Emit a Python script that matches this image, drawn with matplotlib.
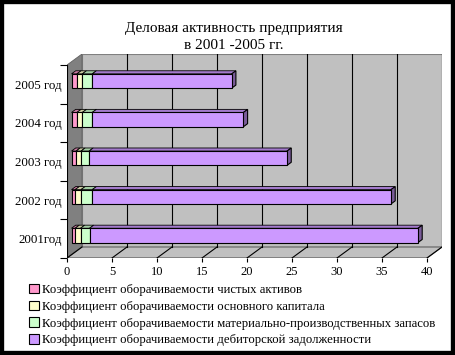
import matplotlib
matplotlib.use("Agg")
import matplotlib.pyplot as plt
from matplotlib.patches import Polygon, Patch, Rectangle
import numpy as np

plt.rcParams['font.family'] = ['Liberation Serif', 'DejaVu Serif']

# ---------------- data ----------------
categories = ['2001год', '2002 год', '2003 год', '2004 год', '2005 год']
series_names = [
    'Коэффициент оборачиваемости чистых активов',
    'Коэффициент оборачиваемости основного капитала',
    'Коэффициент оборачиваемости материально-производственных запасов',
    'Коэффициент оборачиваемости дебиторской задолженности',
]
net_assets   = [0.4, 0.4, 0.5, 0.6, 0.6]
fixed_capital = [0.6, 0.65, 0.55, 0.6, 0.6]
inventories  = [1.0, 1.25, 0.9, 1.1, 1.1]
receivables  = [36.5, 33.2, 22.0, 16.8, 15.5]
x_ticks = [0, 5, 10, 15, 20, 25, 30, 35, 40]
title = 'Деловая активность предприятия\nв 2001 -2005 гг.'

front_colors = ['#FF99CC', '#FFFFCC', '#CCFFCC', '#CC99FF']

def shade(hexc, k):
    r, g, b = [int(hexc[i:i + 2], 16) / 255 for i in (1, 3, 5)]
    return (r * k, g * k, b * k)

# ---------------- geometry ----------------
W, H, DPI = 455, 355, 100
fig = plt.figure(figsize=(W / DPI, H / DPI), dpi=DPI)
fig.patch.set_facecolor('white')

XMAX = 40
PX_PER_X = 9.0
BAND_PX = 38.6
DX_PX, DY_PX = 15, 11
dxu = DX_PX / PX_PER_X
dyu = DY_PX / BAND_PX

ax_left_px, ax_bottom_px_top = 67, 258
ax_w_px = (XMAX + dxu) * PX_PER_X
ax_h_px = (5 + dyu) * BAND_PX
ax = fig.add_axes([ax_left_px / W, 1 - ax_bottom_px_top / H, ax_w_px / W, ax_h_px / H])
ax.set_xlim(0, XMAX + dxu)
ax.set_ylim(-0.5, 4.5 + dyu)
for s in ax.spines.values():
    s.set_visible(False)
ax.patch.set_visible(False)

y0, y1 = -0.5, 4.5
wall_gray = '#C0C0C0'
# back wall
ax.add_patch(Polygon([(dxu, y0 + dyu), (XMAX + dxu, y0 + dyu), (XMAX + dxu, y1 + dyu), (dxu, y1 + dyu)],
                     closed=True, facecolor=wall_gray, edgecolor='#808080', lw=0.8, zorder=0))
# left wall
ax.add_patch(Polygon([(0, y0), (dxu, y0 + dyu), (dxu, y1 + dyu), (0, y1)],
                     closed=True, facecolor='#808080', edgecolor='#606060', lw=0.6, zorder=0.5))
# floor
ax.add_patch(Polygon([(0, y0), (XMAX, y0), (XMAX + dxu, y0 + dyu), (dxu, y0 + dyu)],
                     closed=True, facecolor=wall_gray, edgecolor='#606060', lw=0.8, zorder=0.5))
# gridlines
for t in x_ticks[1:]:
    ax.plot([t + dxu, t + dxu], [y0 + dyu, y1 + dyu], color='black', lw=0.8, zorder=0.6)
for t in x_ticks:
    ax.plot([t, t + dxu], [y0, y0 + dyu], color='black', lw=0.8, zorder=0.7)
# front axes lines
ax.plot([0, 0], [y0, y1], color='black', lw=0.8, zorder=0.8)
ax.plot([0, XMAX], [y0, y0], color='black', lw=0.8, zorder=0.8)

# ---------------- bars ----------------
f1, f2 = 0.30, 0.58
bar_h = 0.37
ypos = np.arange(len(categories))
series = [net_assets, fixed_capital, inventories, receivables]
lefts = np.zeros(len(categories))
for si, vals in enumerate(series):
    vals = np.asarray(vals)
    yc = ypos + f1 * dyu
    ax.barh(yc, vals, left=lefts + f1 * dxu, height=bar_h, color=front_colors[si],
            edgecolor='black', linewidth=0.8, zorder=3)
    for i in range(len(categories)):
        l = lefts[i]
        r = lefts[i] + vals[i]
        top = ypos[i] + bar_h / 2
        poly = [(l + f1 * dxu, top + f1 * dyu), (r + f1 * dxu, top + f1 * dyu),
                (r + f2 * dxu, top + f2 * dyu), (l + f2 * dxu, top + f2 * dyu)]
        ax.add_patch(Polygon(poly, closed=True, facecolor=shade(front_colors[si], 0.8),
                             edgecolor='black', lw=0.6, zorder=2.5))
        if si == len(series) - 1:
            bot = ypos[i] - bar_h / 2
            side = [(r + f1 * dxu, bot + f1 * dyu), (r + f2 * dxu, bot + f2 * dyu),
                    (r + f2 * dxu, top + f2 * dyu), (r + f1 * dxu, top + f1 * dyu)]
            ax.add_patch(Polygon(side, closed=True, facecolor=shade(front_colors[si], 0.6),
                                 edgecolor='black', lw=0.8, zorder=2.6))
    lefts = lefts + vals

# ---------------- ticks ----------------
ax.set_xticks(x_ticks)
ax.set_xticklabels([str(t) for t in x_ticks], fontsize=9)
ax.tick_params(axis='x', length=3, width=0.8, pad=3, direction='out')
ax.set_yticks(ypos)
ax.set_yticklabels(categories, fontsize=9.3)
ax.set_yticks(np.arange(-0.5, 5.0, 1.0), minor=True)
ax.tick_params(axis='y', which='major', length=0, pad=4)
ax.tick_params(axis='y', which='minor', length=5, width=0.8, direction='out')
ax.tick_params(axis='x', which='minor', length=0)

# ---------------- title ----------------
fig.text(234 / W, 1 - 37 / H, title, ha='center', va='center', fontsize=11, linespacing=1.4)

# ---------------- legend ----------------
handles = [Patch(facecolor=c, edgecolor='black', linewidth=0.8) for c in front_colors]
fig.legend(handles, series_names, loc='upper left', bbox_to_anchor=(29 / W, 1 - 284 / H),
           frameon=False, fontsize=9.2, handlelength=0.75, handleheight=0.75,
           handletextpad=0.3, labelspacing=0.36, borderpad=0, borderaxespad=0)

# ---------------- border ----------------
fig.patches.append(Rectangle((0, 0), 1, 1, transform=fig.transFigure, fill=False,
                             edgecolor='black', linewidth=6, zorder=10))

fig.savefig('out.png', dpi=DPI)
